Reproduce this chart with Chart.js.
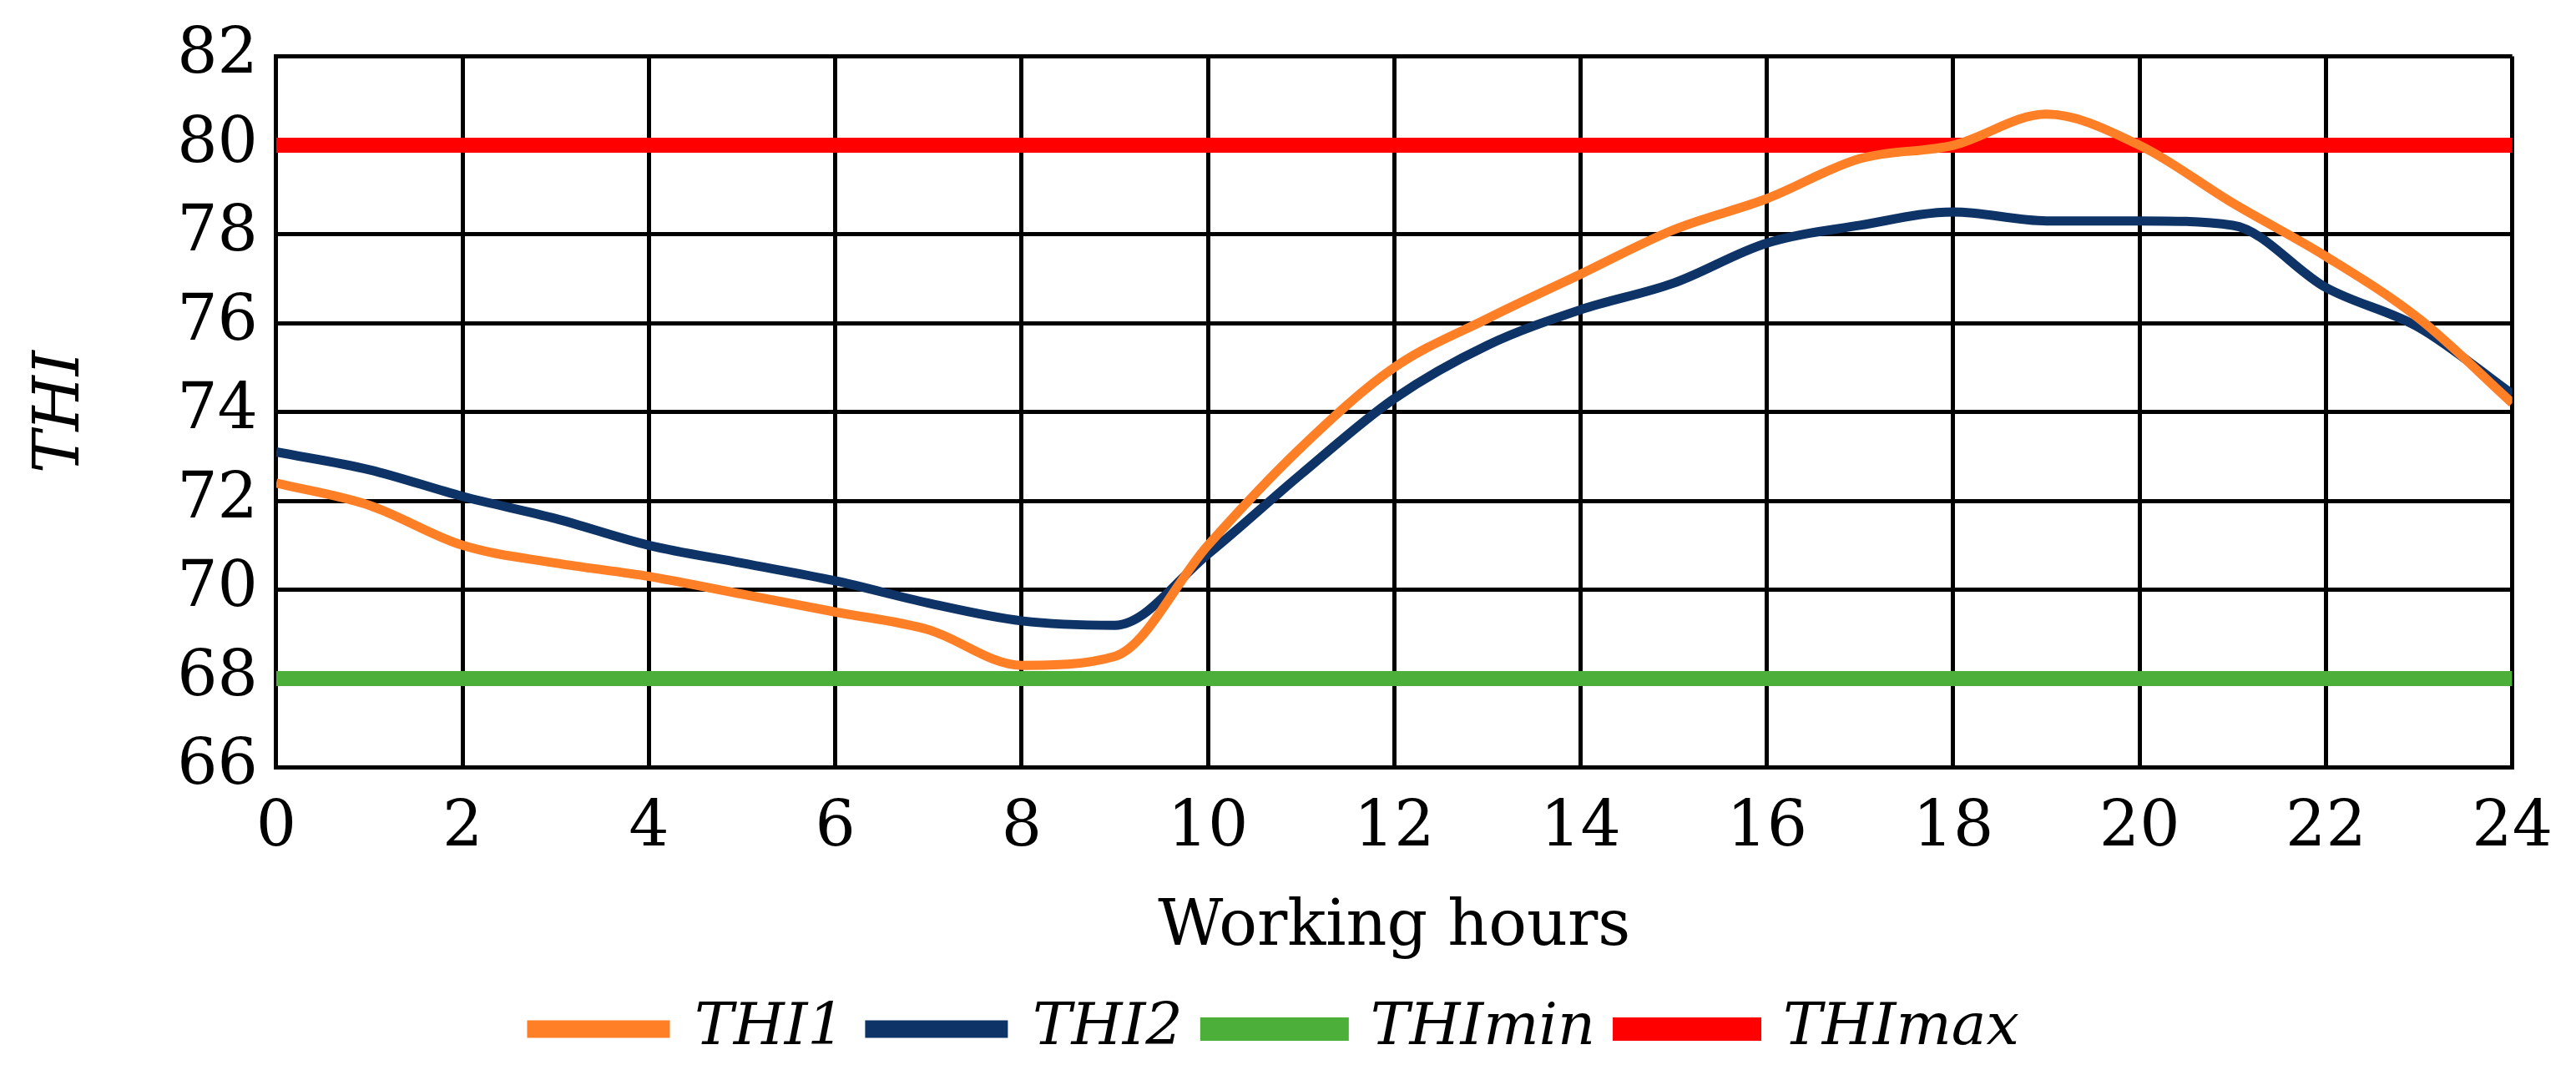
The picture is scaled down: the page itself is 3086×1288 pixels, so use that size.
<!DOCTYPE html>
<html><head><meta charset="utf-8">
<script src="https://cdn.jsdelivr.net/npm/chart.js@4"></script>
<style>html,body{margin:0;background:#fff}#w{width:3086px;height:1288px}</style>
</head><body><div id="w"><canvas id="c"></canvas></div>
<script>
const hours=[0,1,2,3,4,5,6,7,8,9,10,11,12,13,14,15,16,17,18,19,20,21,22,23,24];
const thi1=[72.4,71.9,71.0,70.6,70.3,69.9,69.5,69.1,68.3,68.5,71.0,73.2,75.0,76.1,77.1,78.1,78.8,79.7,80.0,80.7,80.0,78.7,77.5,76.1,74.2];
const thi2=[73.1,72.7,72.1,71.6,71.0,70.6,70.2,69.7,69.3,69.2,70.8,72.6,74.3,75.5,76.3,76.9,77.8,78.2,78.5,78.3,78.3,78.2,76.8,75.9,74.4];
const thiMin=68, thiMax=80;
const pts=a=>hours.map((h,i)=>({x:h,y:a[i]}));
const flat=v=>[{x:0,y:v},{x:24,y:v}];
const F='"DejaVu Serif","Liberation Serif",serif';
new Chart(document.getElementById('c'),{type:'line',
data:{datasets:[
{label:'THI1',data:pts(thi1),borderColor:'#FF7F27',backgroundColor:'#FF7F27',borderWidth:11,cubicInterpolationMode:'monotone',pointRadius:0},
{label:'THI2',data:pts(thi2),borderColor:'#0E3366',backgroundColor:'#0E3366',borderWidth:11,cubicInterpolationMode:'monotone',pointRadius:0},
{label:'THImin',data:flat(thiMin),borderColor:'#4CAF3A',backgroundColor:'#4CAF3A',borderWidth:18,pointRadius:0},
{label:'THImax',data:flat(thiMax),borderColor:'#FF0000',backgroundColor:'#FF0000',borderWidth:18,pointRadius:0}]},
options:{responsive:true,maintainAspectRatio:false,animation:false,
layout:{padding:{left:25,right:55,top:30,bottom:10}},
plugins:{legend:{position:'bottom',labels:{boxWidth:160,boxHeight:10,padding:30,color:'#000',font:{family:F,size:70,style:'italic'}}},tooltip:{enabled:false}},
scales:{
x:{type:'linear',min:0,max:24,ticks:{stepSize:2,color:'#000',font:{family:F,size:76},padding:28},grid:{color:'#000',lineWidth:5,drawTicks:false},border:{color:'#000',width:5},
 title:{display:true,text:'Working hours',color:'#000',font:{family:F,size:76},padding:{top:0,bottom:10}}},
y:{min:66,max:82,ticks:{stepSize:2,color:'#000',font:{family:F,size:76},padding:22},grid:{color:'#000',lineWidth:5,drawTicks:false},border:{color:'#000',width:5},
 title:{display:true,text:'THI',color:'#000',font:{family:F,size:76,style:'italic'},padding:{bottom:70}}}}}});
</script></body></html>
